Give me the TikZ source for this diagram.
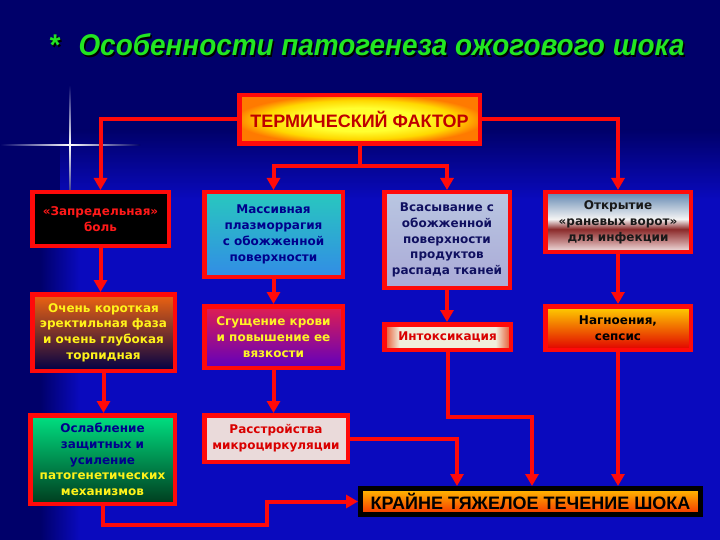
\documentclass[tikz,border=0pt]{standalone}
\usepackage{fontspec}
\setmainfont{DejaVu Sans}
\newfontfamily\arialfont{Liberation Sans}
\newfontfamily\titlefont[FakeStretch=0.93]{Liberation Sans}
\usetikzlibrary{arrows.meta,calc}
\definecolor{bgdark}{HTML}{00006A}
\definecolor{bgbright}{HTML}{0A0ABE}
\definecolor{lred}{HTML}{FF0A0A}
\definecolor{tgreen}{HTML}{22E622}
\definecolor{c4t}{HTML}{5F85B0}
\definecolor{c4w}{HTML}{F4F4F4}
\definecolor{c4b}{HTML}{8A2A2A}
\definecolor{c4c}{HTML}{C89090}
\definecolor{c4d}{HTML}{F2E4E4}
\definecolor{c7e}{HTML}{E85028}
\definecolor{c7w}{HTML}{F0EEDC}
\definecolor{tyel}{HTML}{FFFF30}
\definecolor{tyel2}{HTML}{FFD800}
\definecolor{tora}{HTML}{FF7A00}
\pgfdeclareverticalshading{openshade}{100bp}{color(0bp)=(c4d); color(25bp)=(c4d); color(33bp)=(c4c); color(44bp)=(c4b); color(52.5bp)=(c4w); color(75bp)=(c4t); color(100bp)=(c4t)}
\pgfdeclarehorizontalshading{intoxshade}{100bp}{color(0bp)=(c7e); color(25bp)=(c7e); color(31bp)=(c7w); color(69bp)=(c7w); color(75bp)=(c7e); color(100bp)=(c7e)}
\pgfdeclareradialshading{thermshade}{\pgfpoint{0bp}{0bp}}{color(0bp)=(tyel); color(12bp)=(tyel); color(20bp)=(tyel2); color(26bp)=(tora); color(50bp)=(tora)}
\tikzset{
  box/.style={draw=lred, line width=4.5pt, align=center, inner sep=0pt,
    font=\bfseries\fontsize{12}{15.8}\selectfont},
  arr/.style={draw=lred, line width=4pt, -{Triangle[width=13pt,length=12pt]}},
  bigtext/.style={font=\arialfont\bfseries\fontsize{18}{20}\selectfont},
  titletext/.style={anchor=base west, font=\titlefont\bfseries\itshape\fontsize{30}{31}\selectfont}
}
\begin{document}
\begin{tikzpicture}[x=1pt,y=-1pt]
\useasboundingbox (0,0) rectangle (720,540);
% background
\fill[bgdark] (0,0) rectangle (720,540);
\shade[top color=bgdark, bottom color=bgbright] (60,130) rectangle (720,200);
\shade[left color=bgdark, right color=bgbright] (40,200) rectangle (80,540);
\fill[bgbright] (80,200) rectangle (720,540);
% sparkle
\shade[top color=bgdark, bottom color=bgdark, middle color=white] (69.2,85) rectangle (70.8,205);
\shade[left color=bgdark, right color=bgdark, middle color=white] (0,144.2) rectangle (140,145.8);
% title
\node[titletext, text=black] (starsh) at (46.5,57.5) {*};
\node[titletext, text=black] (titlesh) at (76.5,57.5) {Особенности патогенеза ожогового шока};
\node[titletext, text=tgreen] (star) at (45,56) {*};
\node[titletext, text=tgreen] (title) at (75,56) {Особенности патогенеза ожогового шока};
% nodes
\node[box, bigtext, shade, shading=thermshade, text=red!75!black,
  minimum width=240.5, minimum height=48.5] (T) at (359.5,119.5) {ТЕРМИЧЕСКИЙ ФАКТОР};
\node[box, fill=black, text=red!90!white, minimum width=136.5, minimum height=53.5] (B1) at (100.5,219) {«Запредельная»\\боль};
\node[box, top color={rgb,255:red,40;green,200;blue,190}, middle color={rgb,255:red,130;green,225;blue,240}, bottom color={rgb,255:red,50;green,140;blue,230}, text=blue!55!black,
  minimum width=138.5, minimum height=84.5] (B2) at (273.5,234.5) {Массивная\\плазморрагия\\с обожженной\\поверхности};
\node[box, top color={rgb,255:red,185;green,198;blue,225}, middle color={rgb,255:red,230;green,232;blue,246}, bottom color={rgb,255:red,170;green,170;blue,215}, text={rgb,255:red,16;green,16;blue,96},
  minimum width=125.5, minimum height=95.5] (B3) at (447,240) {Всасывание с\\обожженной\\поверхности\\продуктов\\распада тканей};
\node[box, shade, shading=openshade, text=black!90,
  minimum width=145.5, minimum height=59.5] (B4) at (618,222) {Открытие\\«раневых ворот»\\для инфекции};
\node[box, top color={rgb,255:red,240;green,100;blue,16}, middle color={rgb,255:red,90;green,20;blue,50}, bottom color={rgb,255:red,0;green,0;blue,70}, text=yellow!90!white,
  minimum width=142.5, minimum height=76.5] (B5) at (103.5,332.5) {Очень короткая\\эректильная фаза\\и очень глубокая\\торпидная};
\node[box, top color={rgb,255:red,225;green,30;blue,80}, middle color={rgb,255:red,160;green,16;blue,160}, bottom color={rgb,255:red,96;green,0;blue,190}, text=yellow!85!white,
  minimum width=138.5, minimum height=61.5] (B6) at (273.5,337) {Сгущение крови\\и повышение ее\\вязкости};
\node[box, shade, shading=intoxshade, text=red!85!black,
  minimum width=126.5, minimum height=25.5] (B7) at (447.5,337) {Интоксикация};
\node[box, top color={rgb,255:red,255;green,210;blue,0}, middle color={rgb,255:red,255;green,130;blue,0}, bottom color={rgb,255:red,225;green,0;blue,0}, text=black,
  minimum width=145.5, minimum height=43.5] (B8) at (618,328) {Нагноения,\\сепсис};
\node[box, top color={rgb,255:red,0;green,225;blue,130}, middle color={rgb,255:red,0;green,150;blue,70}, bottom color={rgb,255:red,0;green,60;blue,30},
  minimum width=144.5, minimum height=88.5] (B9) at (102.5,459.5) {\textcolor{blue!55!black}{Ослабление}\\\textcolor{blue!55!black}{защитных и}\\\textcolor{blue!55!black}{усиление}\\\textcolor{yellow!90!white}{патогенетических}\\\textcolor{yellow!90!white}{механизмов}};
\node[box, fill={rgb,255:red,234;green,218;blue,218}, text=red!85!black,
  minimum width=143.5, minimum height=46.5] (B10) at (276,438.5) {Расстройства\\микроциркуляции};
\node[box, bigtext, draw=black, line width=5pt, top color={rgb,255:red,255;green,190;blue,0}, middle color={rgb,255:red,255;green,215;blue,40}, bottom color={rgb,255:red,245;green,50;blue,0}, text=black,
  minimum width=340, minimum height=26] (Bot) at (530.5,501.5) {КРАЙНЕ ТЯЖЕЛОЕ ТЕЧЕНИЕ ШОКА};
% helper coordinates
\coordinate (jT) at (359.5,166);
\coordinate (j9) at (267,525);
\coordinate (xa) at (457,0);
\coordinate (j7) at (532,417);
% connectors
\draw[arr] (T.west) -| (B1.north);
\draw[arr] (T.east) -| (B4.north);
\draw[draw=lred, line width=4pt] (T.south) -- (jT);
\draw[arr] (jT) -| (B2.north);
\draw[arr] (jT) -| (B3.north);
\draw[arr] (B1.south) -- (B1.south |- B5.north);
\draw[arr] (B5.south) -- (B5.south |- B9.north);
\draw[arr] (B2.south) -- (B2.south |- B6.north);
\draw[arr] (B3.south) -- (B3.south |- B7.north);
\draw[arr] (B4.south) -- (B4.south |- B8.north);
\draw[arr] (B6.south) -- (B6.south |- B10.north);
\draw[arr] (B9.south) |- (j9) |- (Bot.west);
\draw[arr] (B10.east) -| (xa |- Bot.north);
\draw[arr] (B7.south) |- (j7) -- (j7 |- Bot.north);
\draw[arr] (B8.south) -- (B8.south |- Bot.north);
\end{tikzpicture}
\end{document}
